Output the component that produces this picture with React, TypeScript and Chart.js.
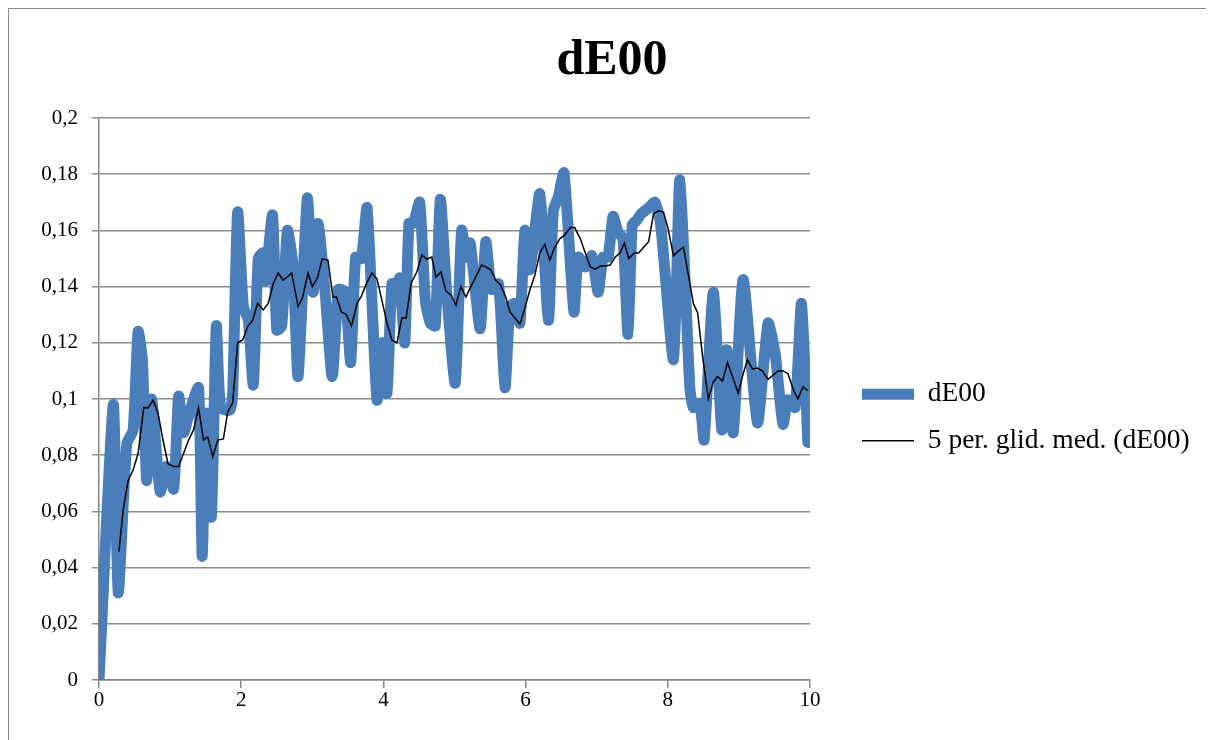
import React, { useEffect, useRef } from "react";
import { Chart, registerables } from "chart.js";

Chart.register(...registerables);

const TITLE = "dE00";
const SERIES_LABEL = "dE00";
const TREND_LABEL = "5 per. glid. med. (dE00)";

const xTicks = [0, 2, 4, 6, 8, 10];
const yTicks = [0, 0.02, 0.04, 0.06, 0.08, 0.1, 0.12, 0.14, 0.16, 0.18, 0.2];

const blueX = [0, 0.2, 0.27, 0.39, 0.48, 0.55, 0.61, 0.67, 0.74, 0.86, 0.95, 1.05, 1.12, 1.19, 1.28, 1.4, 1.45, 1.51, 1.58, 1.65, 1.71, 1.84, 1.88, 1.95, 2.03, 2.1, 2.17, 2.24, 2.31, 2.34, 2.44, 2.5, 2.57, 2.65, 2.73, 2.8, 2.93, 3.01, 3.08, 3.18, 3.28, 3.37, 3.46, 3.54, 3.61, 3.69, 3.77, 3.91, 3.98, 4.05, 4.12, 4.19, 4.23, 4.3, 4.36, 4.42, 4.51, 4.59, 4.66, 4.73, 4.8, 4.89, 5.01, 5.1, 5.17, 5.22, 5.36, 5.44, 5.52, 5.62, 5.71, 5.78, 5.85, 5.92, 5.99, 6.06, 6.2, 6.32, 6.39, 6.46, 6.54, 6.68, 6.74, 6.84, 6.93, 7.02, 7.09, 7.16, 7.23, 7.3, 7.37, 7.44, 7.5, 7.56, 7.63, 7.73, 7.82, 7.9, 8.08, 8.17, 8.31, 8.36, 8.45, 8.51, 8.64, 8.76, 8.83, 8.92, 9.06, 9.26, 9.41, 9.51, 9.62, 9.69, 9.79, 9.88, 9.97];
const blueY = [0, 0.098, 0.031, 0.084, 0.089, 0.124, 0.114, 0.071, 0.1, 0.067, 0.076, 0.068, 0.101, 0.088, 0.096, 0.104, 0.044, 0.095, 0.058, 0.126, 0.097, 0.096, 0.102, 0.1665, 0.133, 0.128, 0.105, 0.15, 0.152, 0.142, 0.1655, 0.1245, 0.126, 0.16, 0.147, 0.108, 0.1715, 0.138, 0.1625, 0.138, 0.108, 0.139, 0.138, 0.113, 0.1505, 0.15, 0.168, 0.0997, 0.12, 0.102, 0.141, 0.141, 0.143, 0.12, 0.1625, 0.1625, 0.17, 0.135, 0.127, 0.126, 0.171, 0.138, 0.1057, 0.16, 0.1505, 0.1555, 0.125, 0.156, 0.139, 0.141, 0.104, 0.133, 0.134, 0.127, 0.16, 0.146, 0.173, 0.128, 0.167, 0.172, 0.1805, 0.131, 0.1505, 0.147, 0.151, 0.138, 0.1505, 0.1505, 0.165, 0.1595, 0.157, 0.123, 0.162, 0.1635, 0.166, 0.168, 0.17, 0.162, 0.114, 0.178, 0.104, 0.097, 0.0985, 0.0855, 0.138, 0.089, 0.1175, 0.088, 0.1425, 0.0915, 0.127, 0.116, 0.091, 0.0997, 0.097, 0.134, 0.0845];

const maX = [0.28, 0.34, 0.41, 0.48, 0.55, 0.63, 0.69, 0.76, 0.83, 0.9, 0.97, 1.05, 1.12, 1.19, 1.26, 1.33, 1.4, 1.47, 1.53, 1.6, 1.67, 1.75, 1.81, 1.88, 1.95, 2.02, 2.09, 2.16, 2.23, 2.31, 2.38, 2.45, 2.52, 2.59, 2.65, 2.71, 2.8, 2.86, 2.94, 3.0, 3.07, 3.14, 3.22, 3.29, 3.34, 3.41, 3.48, 3.55, 3.63, 3.69, 3.77, 3.84, 3.91, 3.98, 4.05, 4.12, 4.19, 4.26, 4.32, 4.39, 4.47, 4.54, 4.61, 4.68, 4.74, 4.81, 4.88, 4.95, 5.02, 5.09, 5.16, 5.24, 5.31, 5.38, 5.44, 5.51, 5.58, 5.65, 5.72, 5.78, 5.85, 5.92, 5.99, 6.06, 6.13, 6.2, 6.27, 6.34, 6.41, 6.48, 6.55, 6.63, 6.69, 6.77, 6.84, 6.91, 6.98, 7.05, 7.12, 7.19, 7.26, 7.33, 7.39, 7.45, 7.53, 7.59, 7.66, 7.73, 7.8, 7.87, 7.94, 8.0, 8.08, 8.15, 8.22, 8.29, 8.36, 8.42, 8.49, 8.57, 8.64, 8.7, 8.77, 8.84, 8.91, 8.99, 9.06, 9.12, 9.19, 9.26, 9.33, 9.41, 9.48, 9.55, 9.62, 9.69, 9.77, 9.83, 9.9, 9.97];
const maY = [0.0457, 0.0605, 0.071, 0.0747, 0.0807, 0.097, 0.0968, 0.0996, 0.095, 0.0854, 0.077, 0.076, 0.076, 0.0807, 0.0854, 0.089, 0.0968, 0.0854, 0.0865, 0.0794, 0.0854, 0.0858, 0.0954, 0.0986, 0.12, 0.121, 0.1257, 0.128, 0.134, 0.1317, 0.134, 0.141, 0.1448, 0.1423, 0.1435, 0.1448, 0.133, 0.1359, 0.1448, 0.14, 0.143, 0.1498, 0.1495, 0.1363, 0.1363, 0.131, 0.13, 0.126, 0.134, 0.1366, 0.1416, 0.1448, 0.1427, 0.135, 0.127, 0.121, 0.12, 0.1288, 0.1288, 0.1413, 0.1452, 0.1512, 0.1498, 0.1505, 0.1434, 0.1452, 0.1384, 0.137, 0.1334, 0.14, 0.1363, 0.1405, 0.144, 0.1477, 0.147, 0.146, 0.1423, 0.1405, 0.1363, 0.131, 0.1288, 0.1267, 0.1324, 0.1388, 0.144, 0.152, 0.155, 0.1495, 0.154, 0.157, 0.1584, 0.161, 0.161, 0.157, 0.152, 0.147, 0.1462, 0.1473, 0.1473, 0.1477, 0.1505, 0.152, 0.1555, 0.15, 0.152, 0.152, 0.154, 0.156, 0.166, 0.167, 0.1665, 0.161, 0.151, 0.1527, 0.154, 0.144, 0.134, 0.1306, 0.115, 0.1, 0.106, 0.108, 0.1064, 0.113, 0.108, 0.102, 0.109, 0.114, 0.1107, 0.111, 0.11, 0.107, 0.1085, 0.11, 0.11, 0.109, 0.103, 0.1, 0.1043, 0.103];

const SERIF = "'Liberation Serif', 'Times New Roman', serif";
const BLUE = "#4a7ebb";
const AXIS_GRAY = "#868686";

// placement (canvas px)
const LEGEND_ITEM_LEFT = 853;
const LEGEND_SHIFT_Y = 43;
const TITLE_LEFT = 6;

const placeBlocks = {
  id: "placeBlocks",
  afterLayout(chart: any) {
    const lg = chart.legend;
    if (lg) {
      const pad = lg.options.labels.padding;
      lg.left = LEGEND_ITEM_LEFT - pad;
      lg.right = chart.width;
      lg.top += LEGEND_SHIFT_Y;
      lg.bottom += LEGEND_SHIFT_Y;
    }
    const tb = chart.titleBlock;
    if (tb) {
      tb.left = TITLE_LEFT;
      tb.right = chart.width;
    }
  },
};

export default function App() {
  const ref = useRef<HTMLCanvasElement | null>(null);

  useEffect(() => {
    document.body.style.overflow = "hidden";
    const canvas = ref.current;
    if (!canvas) return;
    const chart = new Chart(canvas, {
      type: "line",
      data: {
        datasets: [
          {
            label: SERIES_LABEL,
            data: blueX.map((x, i) => ({ x, y: blueY[i] })),
            borderColor: BLUE,
            backgroundColor: BLUE,
            borderWidth: 11,
            pointRadius: 0,
            pointStyle: "line",
            borderCapStyle: "round",
            borderJoinStyle: "round",
            tension: 0.2,
            order: 1,
          },
          {
            label: TREND_LABEL,
            data: maX.map((x, i) => ({ x, y: maY[i] })),
            borderColor: "#000000",
            backgroundColor: "#000000",
            borderWidth: 1.5,
            pointRadius: 0,
            pointStyle: "line",
            tension: 0,
            order: 0,
          },
        ],
      },
      options: {
        animation: false,
        responsive: false,
        events: [],
        layout: { padding: { left: 0, right: 132, top: 0, bottom: 0 } },
        plugins: {
          title: {
            display: true,
            text: TITLE,
            color: "#000",
            font: { family: SERIF, size: 50, weight: "bold" },
            padding: { top: 22, bottom: 27 },
          },
          legend: {
            position: "right",
            labels: {
              usePointStyle: true,
              pointStyleWidth: 52,
              color: "#000",
              font: { family: SERIF, size: 27.5 },
              padding: 19,
              sort: (a: any, b: any) => a.datasetIndex - b.datasetIndex,
            },
          },
          tooltip: { enabled: false },
        },
        scales: {
          x: {
            type: "linear",
            min: 0,
            max: 10,
            afterBuildTicks: (s: any) => {
              s.ticks = xTicks.map((v) => ({ value: v }));
            },
            ticks: {
              color: "#000",
              font: { family: SERIF, size: 21 },
              padding: 0,
              maxRotation: 0,
            },
            grid: { drawOnChartArea: false, drawTicks: true, tickLength: 8, color: AXIS_GRAY, lineWidth: 1.5 },
            border: { color: AXIS_GRAY, width: 1.5 },
            afterFit: (s: any) => {
              s.height = 60;
            },
          },
          y: {
            type: "linear",
            min: 0,
            max: 0.2,
            afterBuildTicks: (s: any) => {
              s.ticks = yTicks.map((v) => ({ value: v }));
            },
            ticks: {
              color: "#000",
              font: { family: SERIF, size: 21 },
              padding: 14,
              callback: (v: any) => String(Math.round(Number(v) * 100) / 100).replace(".", ","),
            },
            grid: { color: "#8c8c8c", lineWidth: 1.5, tickLength: 7 },
            border: { color: AXIS_GRAY, width: 1.5 },
            afterFit: (s: any) => {
              s.width = 90;
            },
          },
        },
      },
      plugins: [placeBlocks],
    });
    return () => chart.destroy();
  }, []);

  return (
    <div
      style={{
        position: "relative",
        width: 1200,
        height: 740,
        border: "1px solid #898989",
        background: "#fff",
      }}
    >
      <canvas ref={ref} width={1200} height={731} style={{ display: "block" }} />
    </div>
  );
}
